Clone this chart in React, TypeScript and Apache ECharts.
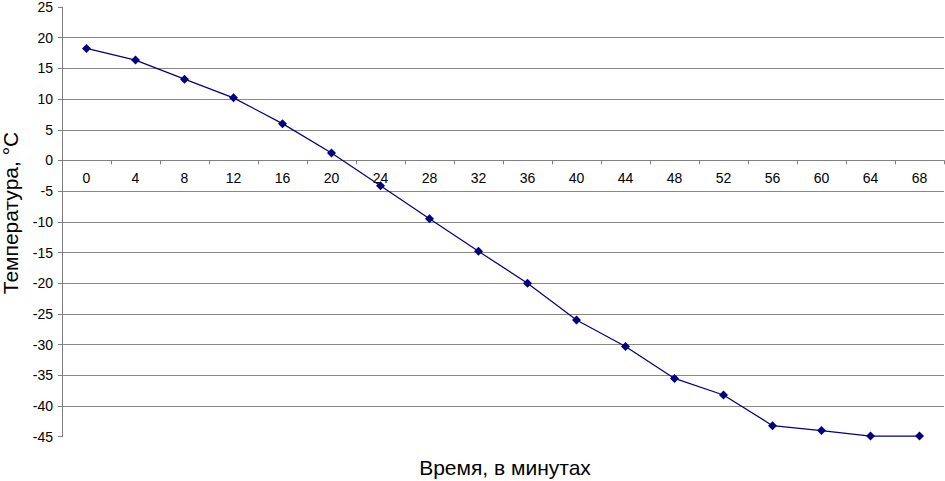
import React, { useEffect, useRef } from "react";
import * as echarts from "echarts";

const minutes: string[] = ["0", "4", "8", "12", "16", "20", "24", "28", "32", "36", "40", "44", "48", "52", "56", "60", "64", "68"];
const temperature: number[] = [18.25, 16.35, 13.25, 10.2, 6.0, 1.2, -4.1, -9.5, -14.8, -20.0, -26.0, -30.3, -35.5, -38.2, -43.2, -44.0, -44.9, -44.9];

const yMin = -45;
const yMax = 25;
const yTitle = "Температура, °C";
const xTitle = "Время, в минутах";
const FONT = "'Liberation Sans', Arial, sans-serif";

const GRID_TOP = 6.7;
const GRID_BOTTOM = 44.3;
const H = 481;

export default function App() {
  const ref = useRef<HTMLDivElement>(null);
  useEffect(() => {
    if (!ref.current) return;
    const chart = echarts.init(ref.current, undefined, { renderer: "svg" });
    const plotH = H - GRID_TOP - GRID_BOTTOM;
    const zeroFromBottom = (plotH * (0 - yMin)) / (yMax - yMin);
    chart.setOption({
      animation: false,
      backgroundColor: "#ffffff",
      textStyle: { fontFamily: FONT },
      grid: { left: 62, right: 1, top: GRID_TOP, bottom: GRID_BOTTOM, containLabel: false },
      xAxis: {
        type: "category",
        data: minutes,
        boundaryGap: true,
        offset: -zeroFromBottom,
        axisLine: { onZero: false, lineStyle: { color: "#808080", width: 1 } },
        axisTick: { show: true, length: 4, alignWithLabel: false, lineStyle: { color: "#808080" } },
        axisLabel: { color: "#000", fontSize: 14, margin: 11, fontFamily: FONT },
        splitLine: { show: false },
      },
      yAxis: {
        type: "value",
        min: yMin,
        max: yMax,
        interval: 5,
        axisLine: { show: true, lineStyle: { color: "#808080", width: 1 } },
        axisTick: { show: true, length: 4, lineStyle: { color: "#808080" } },
        axisLabel: { color: "#000", fontSize: 14, margin: 9, fontFamily: FONT },
        splitLine: { show: true, showMinLine: false, showMaxLine: false, lineStyle: { color: "#888888", width: 1 } },
      },
      graphic: [
        {
          type: "text",
          x: 10,
          y: 213,
          rotation: Math.PI / 2,
          style: {
            text: yTitle,
            fontSize: 21,
            fontFamily: FONT,
            fill: "#000",
            textAlign: "center",
            textVerticalAlign: "middle",
          },
        },
        {
          type: "text",
          x: 505,
          y: 467,
          style: {
            text: xTitle,
            fontSize: 21,
            fontFamily: FONT,
            fill: "#000",
            textAlign: "center",
            textVerticalAlign: "middle",
          },
        },
      ],
      series: [
        {
          type: "line",
          data: temperature,
          symbol: "diamond",
          symbolSize: 9,
          itemStyle: { color: "#000080" },
          lineStyle: { color: "#000080", width: 1.2 },
        },
      ],
    });
    return () => chart.dispose();
  }, []);
  return <div ref={ref} style={{ width: 945, height: 481, position: "absolute", left: 0, top: 0 }} />;
}
